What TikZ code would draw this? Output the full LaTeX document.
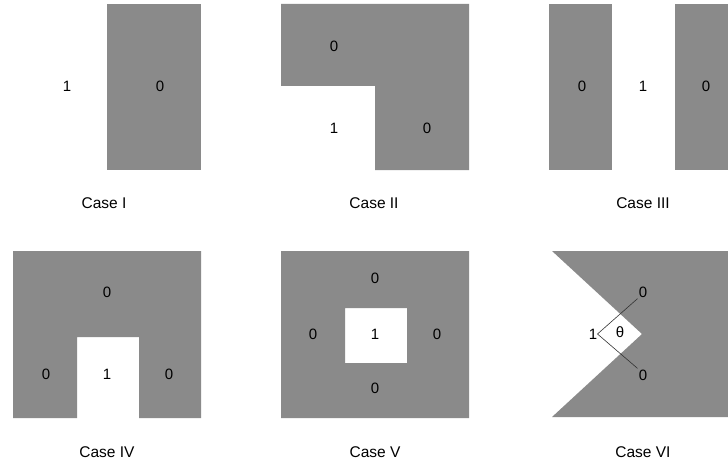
\documentclass[tikz,border=0pt]{standalone}
\usepackage{fontspec}
\setmainfont{Liberation Sans}
\usepackage{tikz}

\begin{document}
\begin{tikzpicture}[x=1pt,y=-1pt,semithick]
    \tikzstyle{region}=[fill={rgb,255:red,138;green,138;blue,138}]
    \tikzstyle{val}=[inner sep=1pt,font=\fontsize{15}{17}\selectfont]
    \tikzstyle{caption}=[inner sep=1pt,font=\fontsize{15.5}{17}\selectfont]
    \useasboundingbox (0,0) rectangle (728,468);

    % Case I
    \fill[region] (107,4) rectangle (201,170);
    \node[val] (c1one) at (67,86) {1};
    \node[val] (c1zero) at (160,86) {0};
    \node[caption] (c1) at (104,203) {Case I};

    % Case II
    \fill[region] (281,4) -- (469,4) -- (469,170) -- (375,170) -- (375,86) -- (281,86) -- cycle;
    \node[val] (c2top) at (334,46) {0};
    \node[val] (c2one) at (334,128) {1};
    \node[val] (c2right) at (427,128) {0};
    \node[caption] (c2) at (374,203) {Case II};

    % Case III
    \fill[region] (549,4) rectangle (612,170);
    \fill[region] (675,4) rectangle (728,170);
    \node[val] (c3left) at (582,86) {0};
    \node[val] (c3one) at (643,86) {1};
    \node[val] (c3right) at (706,86) {0};
    \node[caption] (c3) at (643,203) {Case III};

    % Case IV
    \fill[region] (13,251) -- (201,251) -- (201,418) -- (139,418) -- (139,337) -- (77,337) -- (77,418) -- (13,418) -- cycle;
    \node[val] (c4top) at (107,292) {0};
    \node[val] (c4left) at (46,374) {0};
    \node[val] (c4one) at (107,374) {1};
    \node[val] (c4right) at (169,374) {0};
    \node[caption] (c4) at (107,452) {Case IV};

    % Case V
    \fill[region,even odd rule] (281,251) rectangle (469,418) (345,308) rectangle (407,363);
    \node[val] (c5top) at (375,278) {0};
    \node[val] (c5left) at (313,334) {0};
    \node[val] (c5one) at (375,334) {1};
    \node[val] (c5right) at (437,334) {0};
    \node[val] (c5bot) at (375,388) {0};
    \node[caption] (c5) at (375,452) {Case V};

    % Case VI
    \fill[region] (552,251) -- (728,251) -- (728,417) -- (552,417) -- (642,334) -- cycle;
    \node[val,inner sep=0pt] (c6one) at (593,334) {1};
    \node[val] (c6theta) at (620,332) {θ};
    \node[val] (c6top) at (643,292) {0};
    \node[val] (c6bot) at (643,375) {0};
    \draw[black!80] (c6top.south west) -- (c6one.east) -- (c6bot.north west);
    \node[caption] (c6) at (643,452) {Case VI};

\end{tikzpicture}
\end{document}
